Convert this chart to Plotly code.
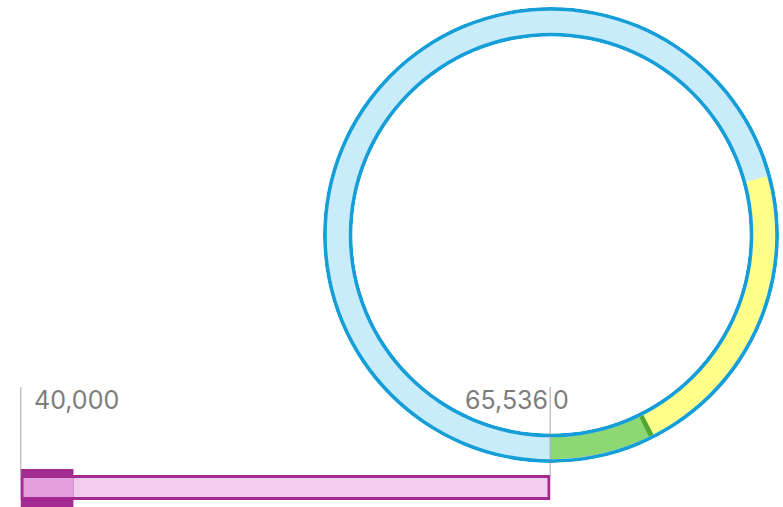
import plotly.graph_objects as go

W, H = 783, 507

# ---- data ----
GENOME_LEN = 65536
ring_starts = [0, 0, 4710, 4955]
ring_ends = [65536, 4710, 4955, 19160]
ring_colors = ["#c9ecfb", "#8ed874", "#4fa82b", "#ffff8a"]

track_start = 40000
track_end = 65536
highlight_start = 40000
highlight_end = 42550

tick_values = [40000, 65536]
tick_labels = ["40,000", "65,536"]
ring_zero_label = "0"

# ---- colors ----
BLUE = "#169ed8"
MAG = "#a32a91"
PINK_LIGHT = "#f1cdee"
PINK_MED = "#e4a0dc"
GRAY_TXT = "#7d7d7d"
GRAY_LINE = "#888888"

def px_x(p):
    return p / W

def px_y(p):
    return 1 - p / H

fig = go.Figure()

# ---- ring (polar); radial units are pixels measured from the hole edge ----
R_OUT, R_IN, BORDER = 228.0, 198.5, 3.8
THICK = R_OUT - R_IN
thetas = [(s + e) / 2 / GENOME_LEN * 360 for s, e in zip(ring_starts, ring_ends)]
widths = [(e - s) / GENOME_LEN * 360 for s, e in zip(ring_starts, ring_ends)]
for th, wd, c in zip(thetas, widths, ring_colors):
    fig.add_trace(go.Barpolar(r=[THICK - 2 * BORDER], theta=[th], width=[wd], base=BORDER,
                              marker=dict(color=c, line=dict(width=0)),
                              hoverinfo="skip", showlegend=False))
for b in (0, THICK - BORDER):
    fig.add_trace(go.Barpolar(r=[BORDER], theta=[180], width=[360], base=b,
                              marker=dict(color=BLUE, line=dict(width=0)),
                              hoverinfo="skip", showlegend=False))

# ---- linear track (cartesian) ----
upx = (track_end - track_start) / 530.0  # data units per pixel
pad = 3 * upx
# outline (dark) bar
fig.add_trace(go.Bar(y=[19.5], x=[track_end - track_start], base=[track_start],
                     width=[25], orientation="h",
                     marker=dict(color=MAG, line=dict(width=0)),
                     hoverinfo="skip", showlegend=False))
# inner light fill
fig.add_trace(go.Bar(y=[19.5], x=[track_end - track_start - 2 * pad], base=[track_start + pad],
                     width=[19], orientation="h",
                     marker=dict(color=PINK_LIGHT, line=dict(width=0)),
                     hoverinfo="skip", showlegend=False))
# highlighted region
fig.add_trace(go.Bar(y=[19], x=[highlight_end - highlight_start], base=[highlight_start],
                     width=[38], orientation="h",
                     marker=dict(color=MAG, line=dict(width=0)),
                     hoverinfo="skip", showlegend=False))
fig.add_trace(go.Bar(y=[19.5], x=[highlight_end - highlight_start - pad], base=[highlight_start + pad],
                     width=[19], orientation="h",
                     marker=dict(color=PINK_MED, line=dict(width=0)),
                     hoverinfo="skip", showlegend=False))

# tick lines
for v in tick_values:
    fig.add_shape(type="line", xref="x", yref="y", x0=v, x1=v, y0=31, y1=120,
                  line=dict(color=GRAY_LINE, width=1.5), layer="above")

font = dict(family="Inter, Roboto, sans-serif", size=25, color=GRAY_TXT)
fig.add_annotation(x=tick_values[0], y=107, xref="x", yref="y", text=tick_labels[0],
                   showarrow=False, xanchor="left", yanchor="middle", xshift=11, font=font)
fig.add_annotation(x=tick_values[1], y=107, xref="x", yref="y", text=tick_labels[1],
                   showarrow=False, xanchor="right", yanchor="middle", xshift=-1, font=font)
fig.add_annotation(x=tick_values[1], y=107, xref="x", yref="y", text=ring_zero_label,
                   showarrow=False, xanchor="left", yanchor="middle", xshift=0, font=font)

fig.update_layout(
    width=W, height=H,
    margin=dict(l=0, r=0, t=0, b=0),
    paper_bgcolor="white", plot_bgcolor="rgba(0,0,0,0)",
    barmode="overlay",
    showlegend=False,
    polar=dict(
        domain=dict(x=[px_x(323), px_x(779)], y=[px_y(463), px_y(7)]),
        hole=R_IN / R_OUT,
        bgcolor="rgba(0,0,0,0)",
        radialaxis=dict(range=[0, THICK], visible=False, showgrid=False),
        angularaxis=dict(rotation=270, direction="counterclockwise", visible=False,
                         showgrid=False),
    ),
    xaxis=dict(domain=[px_x(20.5), px_x(550.5)], range=[track_start, track_end],
               visible=False, showgrid=False, zeroline=False, fixedrange=True),
    yaxis=dict(domain=[0, 127 / H], range=[0, 127], visible=False, showgrid=False,
               zeroline=False, fixedrange=True),
)

fig.write_html("out.html", config={"displayModeBar": False},
               post_script="document.body.style.margin='0';document.body.style.overflow='hidden';")
